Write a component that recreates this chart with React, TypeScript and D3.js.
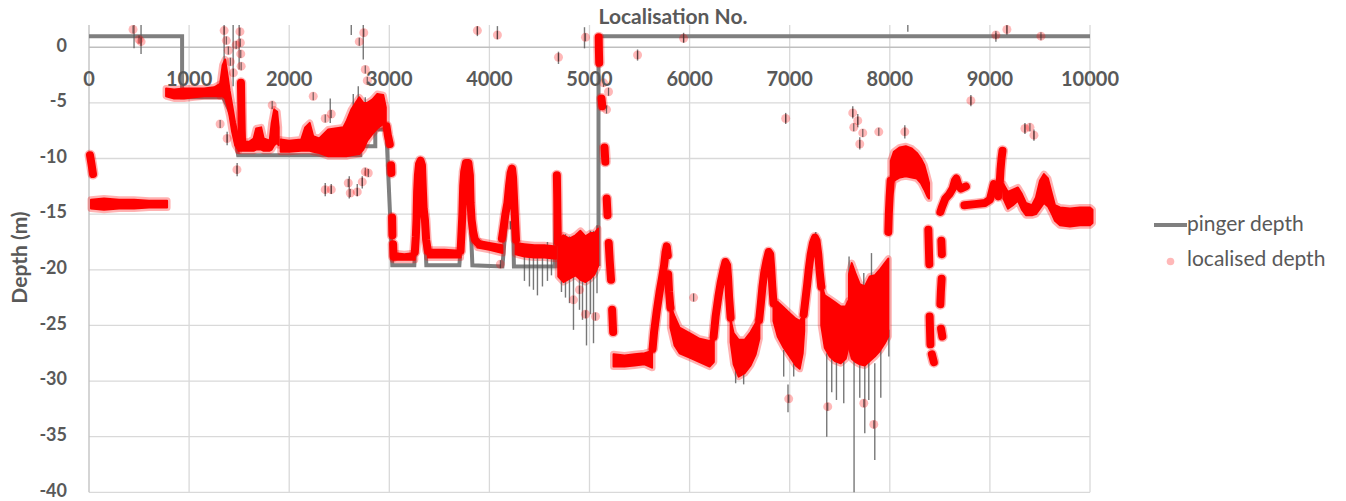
import React from "react";
import * as d3 from "d3";

const WIDTH = 1346;
const HEIGHT = 501;

// Axis ticks
const xTicks = [0, 1000, 2000, 3000, 4000, 5000, 6000, 7000, 8000, 9000, 10000];
const yTicks = [0, -5, -10, -15, -20, -25, -30, -35, -40];

// Pinger depth (step trace): localisation no. / depth (m)
const pingerX = [0, 930, 930, 1340, 1420, 1490, 2710, 2710, 2860, 2860, 2970, 3030, 3250, 3290, 3310, 3340, 3370, 3700, 3760, 3790, 3830, 4130, 4200, 4225, 4245, 4650, 4670, 4690, 5090, 5090, 10000];
const pingerY = [1, 1, -4.5, -4.5, -6, -9.7, -9.7, -8.9, -8.9, -7.4, -7.4, -19.6, -19.6, -12.5, -10.5, -13, -19.6, -19.6, -12, -10.8, -19.6, -19.7, -12, -11, -19.7, -19.7, -12, -19.7, -19.5, 1, 1];

// Localised depth: dense runs of fixes, as [no., depth] traces
const locTraces: [number, number][][] = [
  [[10, -9.7], [25, -10.5], [40, -11.4]],
  [[1518, -3.2], [1522, -5.5], [1526, -7.5], [1530, -8.8]],
  [[2972, -7.1], [2985, -7.9], [3005, -8.7]],
  [[3018, -10.6], [3021, -11.3]],
  [[3028, -15.3], [3031, -16.9]],
  [[3038, -17.7], [3042, -18.8]],
  [[3255, -18.4], [3265, -17], [3272, -15.5], [3278, -13], [3286, -11.5], [3297, -10.5], [3312, -10.2], [3326, -10.6], [3334, -12.5], [3343, -14.5], [3356, -15.5], [3368, -17.3], [3385, -18.3]],
  [[3712, -18.3], [3722, -16.5], [3730, -15], [3738, -12.5], [3748, -11.2], [3765, -10.4], [3790, -10.4], [3805, -11.5], [3812, -14], [3822, -15.5], [3838, -16.6], [3855, -17.3], [3885, -17.6]],
  [[4125, -17.2], [4140, -16.3], [4160, -15], [4180, -14], [4196, -12.5], [4212, -11.3], [4226, -10.9], [4236, -11.7], [4246, -13.6], [4256, -15.5], [4266, -17.3]],
  [[4674, -11.5], [4677, -13.2], [4680, -15.4], [4684, -17.5]],
  [[5092, 0.9], [5094, -0.3], [5097, -1.4]],
  [[5120, -4.6], [5128, -5.3]],
  [[5150, -9.0], [5158, -10.3]],
  [[5172, -13.6], [5180, -15.1]],
  [[5192, -17.6], [5202, -19.2], [5215, -20.9]],
  [[5226, -23.6], [5236, -25.6]],
  [[5630, -27.1], [5645, -25.6], [5672, -23.7], [5700, -22], [5725, -20.7], [5745, -19.6], [5760, -18.4], [5772, -17.9], [5782, -18.7]],
  [[5786, -20.4], [5795, -22], [5808, -23.4]],
  [[6240, -26], [6260, -24.2], [6288, -22.4], [6310, -21.2], [6338, -20], [6358, -19.3], [6375, -19.6], [6385, -20.8], [6395, -22.5], [6410, -24.3]],
  [[6695, -24.5], [6712, -23], [6728, -21.5], [6745, -20.3], [6768, -19.2], [6790, -18.4], [6805, -18.6], [6815, -19.8], [6826, -21.5], [6838, -23]],
  [[7140, -24], [7158, -22.6], [7175, -21.3], [7190, -20], [7210, -18.6], [7232, -17.6], [7252, -17.1], [7268, -17.4], [7285, -18.6], [7300, -20.2], [7315, -21.5]],
  [[7985, -16.6], [7990, -15], [7998, -13.5], [8008, -12]],
  [[8385, -16.4], [8390, -18], [8395, -19.5]],
  [[8398, -24.2], [8402, -25.5], [8406, -26.7]],
  [[8420, -27.6], [8440, -28.3]],
  [[8515, -17.4], [8520, -18.6]],
  [[8518, -20.8], [8510, -22], [8505, -23.1]],
  [[8512, -25.3], [8525, -26]],
  [[8505, -14.8], [8520, -14.4], [8555, -13.6], [8595, -13.2], [8628, -12.7], [8650, -12], [8665, -11.8], [8685, -12.4], [8710, -12.7], [8760, -12.5]],
  [[8745, -14.2], [8850, -14.1], [8950, -14], [9000, -13.7], [9025, -12.8], [9040, -12.3]],
  [[9045, -12.6], [9065, -13.1], [9085, -13.4], [9097, -12.4], [9106, -11], [9116, -10], [9126, -9.3]],
];

// Localised depth: wider scattered runs, as [no., upper depth, lower depth]
const locBands: [number, number, number][][] = [
  [[20, -13.7, -14.5], [150, -13.6, -14.6], [300, -13.7, -14.5], [450, -13.7, -14.5], [600, -13.8, -14.4], [780, -13.8, -14.4]],
  [[770, -3.7, -4.4], [850, -3.8, -4.6], [950, -3.7, -4.6], [1050, -3.7, -4.5], [1150, -3.7, -4.4], [1250, -3.6, -4.4], [1310, -3.3, -4.4]],
  [[1310, -3.3, -4.4], [1335, -1.6, -4.4], [1360, -1.1, -4.6], [1385, -2.6, -5.4], [1405, -3.9, -6.2], [1430, -5.2, -7.6], [1460, -6.8, -8.8], [1495, -8.2, -9.3]],
  [[1495, -8.5, -9.3], [1600, -8.5, -9.3], [1645, -8.2, -9.3], [1670, -7.3, -9.2], [1720, -7.2, -9.2], [1745, -8.2, -9.3], [1805, -8.4, -9.3], [1825, -6.8, -9.2], [1850, -5.6, -8.8], [1880, -5.8, -8.6], [1895, -7.2, -8.8]],
  [[1915, -8.3, -9.4], [2000, -8.4, -9.4], [2120, -8.3, -9.3], [2160, -7.2, -9.3], [2205, -6.8, -9.3], [2240, -8, -9.4], [2300, -8.2, -9.5], [2390, -7.4, -9.8], [2540, -7.2, -9.8], [2570, -6.7, -9.8], [2620, -5.6, -9.7], [2700, -4.5, -9.6], [2740, -5, -9.2], [2780, -5, -8.4], [2830, -4.7, -7.8], [2880, -4.2, -7.3], [2940, -4.3, -6.9], [2965, -5.4, -6.9]],
  [[3040, -18.5, -19.1], [3150, -18.6, -19.1], [3255, -18.5, -19.1]],
  [[3385, -18.2, -18.9], [3550, -18.2, -18.9], [3712, -18.3, -18.9]],
  [[3880, -17.4, -18], [4000, -17.6, -18.2], [4130, -17.8, -18.5]],
  [[4262, -17.6, -18.6], [4350, -17.7, -18.8], [4450, -17.8, -18.9], [4550, -17.8, -18.9], [4665, -17.9, -19]],
  [[4688, -17.3, -20.6], [4740, -16.9, -21.1], [4800, -17.2, -20.8], [4860, -16.9, -20.5], [4910, -16.5, -20.9], [4960, -17, -21.1], [5010, -16.7, -20.8], [5050, -16.7, -20.4], [5085, -16.3, -19.7]],
  [[5240, -27.6, -28.7], [5350, -27.7, -28.7], [5450, -27.6, -28.6], [5550, -27.5, -28.5], [5625, -27.3, -28.8]],
  [[5808, -23.2, -25.2], [5850, -24.2, -26.8], [5900, -25.2, -27.5], [6000, -25.7, -27.9], [6100, -26.2, -28.3], [6200, -26.4, -28.7], [6242, -26.1, -28.3]],
  [[6410, -24.5, -26.5], [6440, -25.7, -28.5], [6490, -26.3, -29.6], [6550, -26.3, -29.3], [6610, -25.6, -28.6], [6660, -24.8, -27.6], [6697, -24.3, -26.2]],
  [[6838, -22.8, -24.6], [6880, -22.9, -26], [6940, -23.4, -27], [7000, -23.9, -27.8], [7060, -24.4, -28.6], [7100, -24.6, -28.9], [7130, -24.2, -27.5], [7145, -23.6, -25.5]],
  [[7315, -21.3, -25], [7350, -22.3, -27], [7400, -22.6, -27.8], [7450, -22.9, -28.2], [7510, -23.3, -28.4], [7560, -23.3, -28], [7585, -22.8, -27]],
  [[7592, -20.4, -27], [7620, -19.4, -28], [7660, -20.4, -28.3], [7700, -21.3, -28.5], [7750, -21.5, -28.6], [7800, -20.6, -28.2], [7850, -20.5, -27.8], [7900, -20, -27.3], [7950, -19.4, -26.6], [7985, -19, -26]],
  [[8010, -10.2, -13], [8040, -9.4, -12], [8100, -9, -11.7], [8160, -8.9, -11.6], [8220, -9.1, -11.7], [8270, -9.5, -11.8], [8310, -10, -12.2], [8345, -10.6, -12.8], [8375, -11.6, -13.4], [8392, -12.2, -13.6]],
  [[9135, -12.3, -13.6], [9180, -13, -14.5], [9230, -12.8, -14.2], [9280, -12.6, -13.8], [9320, -13.2, -14.6], [9360, -14, -15.1], [9420, -14.2, -15.1], [9460, -13.5, -15], [9500, -12, -14.5], [9540, -11.4, -14], [9580, -11.8, -14.3], [9620, -13.2, -15], [9650, -14.2, -15.6], [9700, -14.4, -16], [9800, -14.5, -16.1], [9900, -14.4, -16], [10000, -14.4, -16], [10025, -14.6, -15.8]],
];

// Error bars on localised depth: [no., low, high]
const errorBars: [number, number, number][] = [
  [450, -0.1, 2], [520, -0.6, 2], [1350, -1.5, 2], [1440, -3.5, 2], [1500, -2, 2], [2620, 1.1, 2], [2740, -1.1, 2],
  [3880, 1.0, 1.9], [4080, 0.7, 1.9], [4690, -1.5, -0.4], [4950, -0.1, 1.8], [5480, -1.2, -0.2], [5940, 0.4, 1.3],
  [8180, 1.4, 2], [9060, 0.5, 1.3], [9170, 1.1, 2],
  [2410, -6.8, -4.6], [2640, -8, -4.2], [2690, -7.5, -3.5], [2760, -8, -4.5], [2360, -13.4, -12.2], [2420, -13.2, -12.3],
  [2600, -13.6, -11.6], [2680, -13.4, -12.3], [2730, -12.7, -11.6], [1480, -11.6, -10.4], [1380, -8.8, -7.6],
  [6960, -6.9, -5.9], [7630, -6.4, -5.3], [7680, -7.2, -6], [7700, -9.2, -8.1], [8150, -8.2, -7], [8810, -5.3, -4.3],
  [9350, -7.8, -6.8], [9440, -8.4, -7.4],
  [4350, -21, -18], [4400, -21.5, -18], [4440, -21.8, -18.5], [4480, -22.3, -18], [4530, -21.5, -18], [4580, -21, -17.5], [4620, -20.5, -18],
  [4720, -22, -17], [4760, -22.5, -16.8], [4800, -23, -17], [4840, -25.4, -17], [4900, -23.6, -16.5], [4930, -24.5, -17.5],
  [4970, -26.8, -17], [5010, -24, -16.5], [5040, -26.6, -16.5], [5075, -22.1, -16],
  [6460, -30.2, -28], [6540, -30.3, -28.5], [6940, -29.6, -27.2], [6983, -32.8, -30.3], [7040, -29.6, -28.4], [7260, -19.1, -16.6],
  [7370, -35, -27.5], [7420, -31, -27], [7467, -31.7, -27.8], [7540, -32, -27.2], [7593, -21.2, -18.8], [7643, -40, -27.8],
  [7700, -31.5, -27], [7750, -34.7, -27.8], [7790, -31.7, -27.2], [7817, -21.8, -18.5], [7850, -37.1, -28.4], [7910, -31.5, -27.2],
  [7990, -27.8, -25.4], [7740, -21.8, -20.3],
];

// Isolated localised fixes: [no., depth]
const strayFixes: [number, number][] = [
  [440, 1.6], [500, 0.7], [520, 0.5], [1350, 1.5], [1372, 0.6], [1392, -0.3], [1412, -1.3], [1442, -2.3], [1470, 0.2],
  [1508, 1.4], [1512, 0.4], [1516, -0.6], [1520, -1.7], [1310, -6.9], [1380, -8.2], [1478, -11], [2240, -4.4], [2360, -6.4],
  [2420, -6], [2700, 0.5], [2745, 1.3], [2760, -2], [2780, -3], [2360, -12.8], [2420, -12.8], [2590, -12.2], [2610, -13.1],
  [2680, -13], [2730, -12.1], [2760, -11.2], [2790, -11.3], [3880, 1.5], [4080, 1.1], [4690, -0.9], [4960, 0.9], [5140, -3.2],
  [5170, -5.6], [5190, -4], [5480, -0.7], [5940, 0.8], [6040, -22.5], [6960, -6.4], [6990, -31.6], [7380, -32.3], [7740, -32],
  [7840, -33.9], [7630, -5.9], [7680, -6.6], [7640, -7.2], [7730, -7.7], [7700, -8.7], [7890, -7.6], [8150, -7.6], [8810, -4.8],
  [9060, 1.1], [9170, 1.6], [9510, 1], [9350, -7.3], [9400, -7.2], [9440, -7.9], [4840, -22.7], [4960, -24], [5060, -24.2],
  [4900, -21.8], [1830, -5.2], [4210, -16], [4110, -19.5],
];

const TEXT = "#595959";
const FONT = "Lato, 'Open Sans', 'Liberation Sans', sans-serif";
const RED = "#ff0000";
const HALO = "rgba(255,0,0,0.3)";

export default function App() {
  const x = d3.scaleLinear().domain([0, 10000]).range([89, 1090]);
  const y = d3.scaleLinear().domain([-40, 2]).range([492.3, 25]);

  const line = d3.line<[number, number]>().x((d) => x(d[0])).y((d) => y(d[1]));
  const area = d3
    .area<[number, number, number]>()
    .x((d) => x(d[0]))
    .y0((d) => y(d[2]))
    .y1((d) => y(d[1]));

  const pinger: [number, number][] = pingerX.map((v, i) => [v, pingerY[i]]);
  const top = y(2);
  const bottom = y(-40);

  return (
    <div style={{ position: "absolute", left: 0, top: 0 }}>
      <svg width={WIDTH} height={HEIGHT} style={{ display: "block", background: "#fff" }}>
        {/* gridlines */}
        {xTicks.filter((t) => t > 0).map((t) => (
          <line key={"gx" + t} x1={x(t)} x2={x(t)} y1={top} y2={bottom} stroke="#d9d9d9" strokeWidth={1.3} />
        ))}
        {yTicks.map((t) => (
          <line key={"gy" + t} x1={x(0)} x2={x(10000)} y1={y(t)} y2={y(t)} stroke={t === 0 ? "#bfbfbf" : "#d9d9d9"} strokeWidth={1.3} />
        ))}
        <line x1={x(0)} x2={x(0)} y1={top} y2={bottom} stroke="#bfbfbf" strokeWidth={1.3} />

        {/* pinger depth */}
        <path d={line(pinger) ?? ""} fill="none" stroke="#7f7f7f" strokeWidth={4} strokeLinejoin="miter" />

        {/* localised depth: halos */}
        <g fill="none" stroke={HALO} strokeLinecap="round" strokeLinejoin="round">
          {locBands.map((b, i) => (
            <path key={"bh" + i} d={area(b) ?? ""} strokeWidth={7} />
          ))}
          {locTraces.map((t, i) => (
            <path key={"th" + i} d={line(t) ?? ""} strokeWidth={11} />
          ))}
        </g>

        {/* error bars (under the dense fixes) */}
        <g stroke="#555" strokeOpacity={0.8} strokeWidth={1.4}>
          {errorBars.map(([n, lo, hi], i) => (
            <line key={"e" + i} x1={x(n)} x2={x(n)} y1={y(lo)} y2={y(hi)} />
          ))}
        </g>

        {/* localised depth: cores */}
        <g>
          {locBands.map((b, i) => (
            <path key={"b" + i} d={area(b) ?? ""} fill={RED} stroke={RED} strokeWidth={2} strokeLinejoin="round" />
          ))}
          {locTraces.map((t, i) => (
            <path key={"t" + i} d={line(t) ?? ""} fill="none" stroke={RED} strokeWidth={8} strokeLinecap="round" strokeLinejoin="round" />
          ))}
        </g>

        {/* isolated fixes */}
        <g>
          {strayFixes.map(([n, d], i) => (
            <g key={"s" + i}>
              <circle cx={x(n)} cy={y(d)} r={4.5} fill="rgba(255,0,0,0.28)" />
              <line x1={x(n)} x2={x(n)} y1={y(d) - 4} y2={y(d) + 4} stroke="#333" strokeOpacity={0.7} strokeWidth={1.2} />
            </g>
          ))}
        </g>

        {/* x tick labels */}
        {xTicks.map((t) => (
          <text key={"xt" + t} x={x(t)} y={86} textAnchor="middle" fill={TEXT} fontFamily={FONT} fontWeight={700} fontSize={20}>
            {t}
          </text>
        ))}
        {/* y tick labels */}
        {yTicks.map((t) => (
          <text key={"yt" + t} x={67} y={y(t) - 1.5} dy="0.32em" textAnchor="end" fill={TEXT} fontFamily={FONT} fontWeight={700} fontSize={18}>
            {t}
          </text>
        ))}

        {/* axis titles */}
        <text x={673} y={24} textAnchor="middle" fill={TEXT} fontFamily={FONT} fontWeight={700} fontSize={21}>
          Localisation No.
        </text>
        <text transform="translate(27,257.5) rotate(-90)" textAnchor="middle" fill={TEXT} fontFamily={FONT} fontWeight={700} fontSize={21}>
          Depth (m)
        </text>

        {/* legend */}
        <line x1={1154} x2={1187} y1={225} y2={225} stroke="#7f7f7f" strokeWidth={4} />
        <text x={1187} y={231} fill={TEXT} fontFamily={FONT} fontSize={21}>
          pinger depth
        </text>
        <circle cx={1170.5} cy={261.5} r={3.8} fill="rgba(255,0,0,0.28)" />
        <text x={1187} y={266} fill={TEXT} fontFamily={FONT} fontSize={21}>
          localised depth
        </text>
      </svg>
    </div>
  );
}
